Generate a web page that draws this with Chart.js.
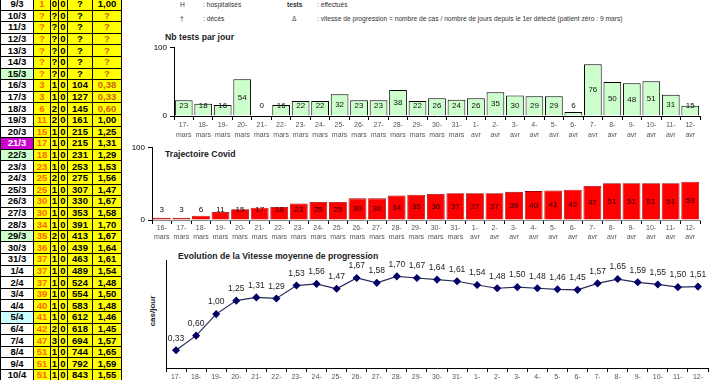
<!DOCTYPE html>
<html><head><meta charset="utf-8">
<script src="https://cdn.jsdelivr.net/npm/chart.js@4.4.1/dist/chart.umd.min.js"></script>
<style>
html,body{margin:0;padding:0;width:720px;height:380px;overflow:hidden;background:#fff;font-family:'Liberation Sans',Arial,sans-serif;}
#tbl{position:absolute;left:0;top:-2px;border-collapse:collapse;table-layout:fixed;width:121px;}
#tbl td{border:1px solid #000;height:10.6px;padding:0;font-weight:bold;font-size:9.5px;line-height:10px;text-align:center;background:#ffff00;color:#000;overflow:hidden;white-space:nowrap;}
#tbl td.d{background:#fff;}
#tbl td.c{color:#ff6600;}
#tbl td.o{color:#cc6600;}
.hd{position:absolute;font-size:6.65px;color:#333;white-space:nowrap;line-height:8px;}
.tt{position:absolute;font-size:8.7px;font-weight:bold;color:#222;white-space:nowrap;line-height:10px;}
canvas{position:absolute;}
</style>
</head><body>
<table id="tbl"><colgroup><col style="width:33px"><col style="width:17px"><col style="width:8px"><col style="width:9px"><col style="width:25px"><col style="width:29px"></colgroup><tbody id="tb"></tbody></table>

<div class="hd" style="left:180px;top:1px">H</div>
<div class="hd" style="left:203px;top:1px">: hospitalisés</div>
<div class="hd" style="left:287px;top:1px;font-weight:bold">tests</div>
<div class="hd" style="left:317px;top:1px">: effectués</div>
<div class="hd" style="left:180px;top:15px">†</div>
<div class="hd" style="left:203px;top:15px">: décès</div>
<div class="hd" style="left:292px;top:15px">Δ</div>
<div class="hd" style="left:317px;top:15px">: vitesse de progression = nombre de cas / nombre de jours depuis le 1er détecté (patient zéro : 9 mars)</div>

<div class="tt" style="left:165px;top:32px">Nb tests par jour</div>
<div class="tt" style="left:165px;top:149px">Trajectoire Covid</div>
<div class="tt" style="left:178px;top:251px">Evolution de la Vitesse moyenne de progression</div>
<div class="tt" style="left:133px;top:306px;width:40px;text-align:center;transform:rotate(-90deg);font-size:8px">cas/jour</div>

<canvas id="c1" width="590" height="110" style="left:130px;top:40px"></canvas>
<canvas id="c2" width="620" height="105" style="left:100px;top:140px"></canvas>
<canvas id="c3" width="600" height="125" style="left:120px;top:255px"></canvas>

<script>
// ---- Table data ----
const tableDates  = ['9/3','10/3','11/3','12/3','13/3','14/3','15/3','16/3','17/3','18/3','19/3','20/3','21/3','22/3','23/3','24/3','25/3','26/3','27/3','28/3','29/3','30/3','31/3','1/4','2/4','3/4','4/4','5/4','6/4','7/4','8/4','9/4','10/4'];
const tableCases  = ['1','?','?','?','?','?','?','3','3','6','11','15','17','18','23','25','25','30','30','34','35','36','37','37','37','39','40','41','42','47','51','51','51'];
const tableHosp   = ['0','?','?','?','?','?','?','1','1','2','2','1','1','1','1','2','1','1','1','1','2','1','1','1','1','1','1','1','2','3','1','1','1'];
const tableDeaths = ['0','0','0','0','0','0','0','0','0','0','0','0','0','0','0','0','0','0','0','0','0','0','0','0','0','0','0','0','0','0','0','0','0'];
const tableTests  = ['?','?','?','?','?','?','?','104','127','145','161','215','215','231','253','275','307','330','353','391','413','439','463','489','524','554','583','612','618','694','744','792','843'];
const tableDelta  = ['1,00','?','?','?','?','?','?','0,38','0,33','0,60','1,00','1,25','1,31','1,29','1,53','1,56','1,47','1,67','1,58','1,70','1,67','1,64','1,61','1,54','1,48','1,50','1,48','1,46','1,45','1,57','1,65','1,59','1,55'];
const dateColors  = {'15/3':['#ccffcc','#000'],'21/3':['#cc00cc','#fff'],'22/3':['#ccffcc','#000'],'29/3':['#ccffcc','#000'],'5/4':['#ccffff','#000']};

// ---- Chart data ----
const testDays   = ['17-mars','18-mars','19-mars','20-mars','21-mars','22-mars','23-mars','24-mars','25-mars','26-mars','27-mars','28-mars','29-mars','30-mars','31-mars','1-avr','2-avr','3-avr','4-avr','5-avr','6-avr','7-avr','8-avr','9-avr','10-avr','11-avr','12-avr'];
const testsPerDay = [23,18,16,54,0,16,22,22,32,23,23,38,22,26,24,26,35,30,29,29,6,76,50,48,51,31,15];
const trajDays   = ['16-mars','17-mars','18-mars','19-mars','20-mars','21-mars','22-mars','23-mars','24-mars','25-mars','26-mars','27-mars','28-mars','29-mars','30-mars','31-mars','1-avr','2-avr','3-avr','4-avr','5-avr','6-avr','7-avr','8-avr','9-avr','10-avr','11-avr','12-avr'];
const casesCum   = [3,3,6,11,15,17,18,23,25,25,30,30,34,35,36,37,37,37,39,40,41,42,47,51,51,51,51,53];
const speedDays  = testDays;
const speedValues = [0.33,0.60,1.00,1.25,1.31,1.29,1.53,1.56,1.47,1.67,1.58,1.70,1.67,1.64,1.61,1.54,1.48,1.50,1.48,1.46,1.45,1.57,1.65,1.59,1.55,1.50,1.51];

// ---- Build table ----
const tb = document.getElementById('tb');
tableDates.forEach((d,i)=>{
  const tr = document.createElement('tr');
  const cells = [[d,'d'],[tableCases[i],'c'],[tableHosp[i],''],[tableDeaths[i],''],[tableTests[i],''],[tableDelta[i], (tableDelta[i]==='?' || parseFloat(tableDelta[i].replace(',','.'))<1) ? 'o' : '']];
  cells.forEach(([t,cls])=>{
    const td=document.createElement('td'); td.textContent=t; if(cls) td.className=cls;
    if(cls==='d' && dateColors[d]){ td.style.background=dateColors[d][0]; td.style.color=dateColors[d][1]; }
    tr.appendChild(td);
  });
  tb.appendChild(tr);
});

// ---- Charts ----
Chart.defaults.font.family = "'Liberation Sans', Arial, sans-serif";
Chart.defaults.color = '#000';
const split = a => a.map(s => { const p = s.split('-'); return [p[0]+'-', p[1]]; });

const valLabels = {
  id:'valLabels',
  afterDatasetsDraw(chart, args, opts){
    if(!opts || !opts.mode) return;
    const ctx = chart.ctx; ctx.save();
    ctx.font = opts.font; ctx.fillStyle = opts.color; ctx.textAlign='center'; ctx.textBaseline='middle';
    const meta = chart.getDatasetMeta(0);
    const vals = chart.data.datasets[0].data;
    meta.data.forEach((el,i)=>{
      let y, txt;
      if(opts.mode==='bar'){
        y = Math.min((el.y+el.base)/2, el.base-10); txt = String(vals[i]);
      } else {
        y = el.y - 12; txt = vals[i].toFixed(2).replace('.',',');
      }
      ctx.fillText(txt, el.x, y);
    });
    ctx.restore();
  }
};

function xAxis(h, lh){
  return {ticks:{autoSkip:false,maxRotation:0,minRotation:0,font:{size:7,lineHeight:lh},color:'#555',padding:0},
    grid:{offset:true,drawOnChartArea:false,tickLength:4,color:'#000'}, border:{color:'#000'},
    afterFit: s=>{ s.height=h; }};
}
function yAxis(w){
  return {min:0,max:100,ticks:{stepSize:100,font:{size:8},color:'#000',padding:3},
    grid:{drawOnChartArea:false,tickLength:4,color:'#000'}, border:{color:'#000'},
    afterFit: s=>{ s.width=w; }};
}

new Chart(document.getElementById('c1'), {
  type:'bar',
  data:{labels:split(testDays), datasets:[{data:testsPerDay, backgroundColor:'#ccffcc', borderColor:'#000', borderWidth:1, barPercentage:0.91, categoryPercentage:1}]},
  options:{responsive:false, animation:false, devicePixelRatio:1,
    layout:{padding:{top:5,right:20,left:0,bottom:0}},
    plugins:{legend:{display:false},tooltip:{enabled:false}, valLabels:{mode:'bar',font:'8px "Liberation Sans", Arial',color:'#111'}},
    scales:{x:xAxis(34,1.4), y:yAxis(44)}},
  plugins:[valLabels]
});

new Chart(document.getElementById('c2'), {
  type:'bar',
  data:{labels:split(trajDays), datasets:[{data:casesCum, backgroundColor:'#ff0000', borderColor:'#990000', borderWidth:0.8, barPercentage:0.91, categoryPercentage:1}]},
  options:{responsive:false, animation:false, devicePixelRatio:1,
    layout:{padding:{top:6,right:20,left:0,bottom:0}},
    plugins:{legend:{display:false},tooltip:{enabled:false}, valLabels:{mode:'bar',font:'8px "Liberation Sans", Arial',color:'#220000'}},
    scales:{x:Object.assign(xAxis(25,1.2),{border:{color:'#888'}}), y:yAxis(52)}},
  plugins:[valLabels]
});

new Chart(document.getElementById('c3'), {
  type:'line',
  data:{labels:split(speedDays), datasets:[{data:speedValues, borderColor:'#2a2a5a', borderWidth:1.2, tension:0,
    pointStyle:'rectRot', pointRadius:3.2, pointBackgroundColor:'#000066', pointBorderColor:'#000066'}]},
  options:{responsive:false, animation:false, devicePixelRatio:1,
    layout:{padding:{top:5,right:12,left:0,bottom:0}},
    plugins:{legend:{display:false},tooltip:{enabled:false}, valLabels:{mode:'point',font:'8.5px "Liberation Sans", Arial',color:'#222'}},
    scales:{
      x:Object.assign(xAxis(12,1.4),{offset:true}),
      y:{min:0,max:2,ticks:{display:false},grid:{display:false},border:{display:true,color:'#000'}, afterFit:s=>{s.width=46;}}
    }},
  plugins:[valLabels]
});
</script>
</body></html>
